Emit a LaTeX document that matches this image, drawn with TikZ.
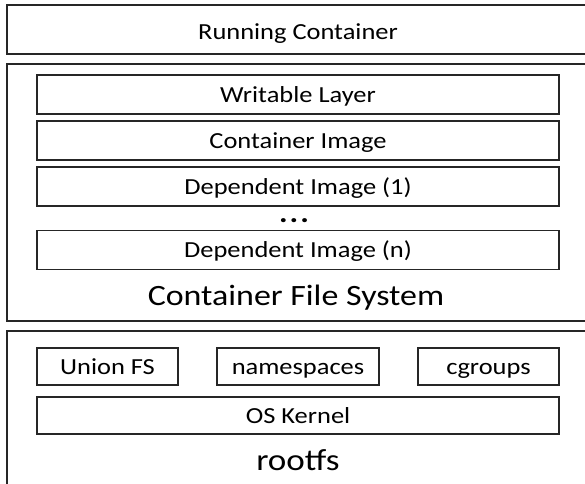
\documentclass[tikz,border=0pt]{standalone}
\usepackage{fontspec}
\setmainfont{Carlito}[FakeStretch=1.15]
\tikzset{
  outerbox/.style = {draw=black!85, line width=1.4pt, inner sep=0pt, minimum width=585pt},
  layerbox/.style = {draw=black!85, line width=1.4pt, inner sep=0pt, minimum height=39pt,
                     font=\fontsize{23}{27}\selectfont, text height=17pt, text depth=2pt},
  biglabel/.style = {font=\fontsize{29.5}{35}\selectfont, anchor=base}
}
\begin{document}
\begin{tikzpicture}[x=1pt,y=-1pt]
  \clip (0,0) rectangle (585,483);
  \node[outerbox,minimum height=49pt,font=\fontsize{23}{27}\selectfont,
        text height=22pt,text depth=2pt] (run) at (299.5,29.5) {\hspace*{-3pt}Running Container};
  \node[outerbox,minimum height=257pt] (cfs) at (299.5,192.5) {};
  \node[outerbox,minimum height=180pt] (host) at (299.5,421) {};
  \foreach \name/\y/\txt in {wl/94.5/Writable Layer, ci/140.5/Container Image,
                             d1/186.5/Dependent Image (1), dn/250/Dependent Image (n)}
    \node[layerbox,minimum width=522pt] (\name) at (298,\y) {\txt};
  \node[font=\fontsize{28}{32}\selectfont\bfseries, anchor=base]
        (dots) at (294,222) {.\hspace{2pt}.\hspace{2pt}.};
  \node[biglabel] (cfslabel) at (296,305) {Container File System};
  \node[layerbox,minimum width=141pt,minimum height=37pt] (ufs)  at (107.5,366.5) {Union FS};
  \node[layerbox,minimum width=162pt,minimum height=37pt] (ns)   at (298,366.5)   {namespaces};
  \node[layerbox,minimum width=141pt,minimum height=37pt] (cgr)  at (488.5,366.5) {cgroups};
  \node[layerbox,minimum width=522pt,minimum height=37pt] (kern) at (298,415.5)   {OS Kernel};
  \node[biglabel,font=\fontsize{30.5}{36}\selectfont] (rootfs) at (298,470) {rootfs};
\end{tikzpicture}
\end{document}
